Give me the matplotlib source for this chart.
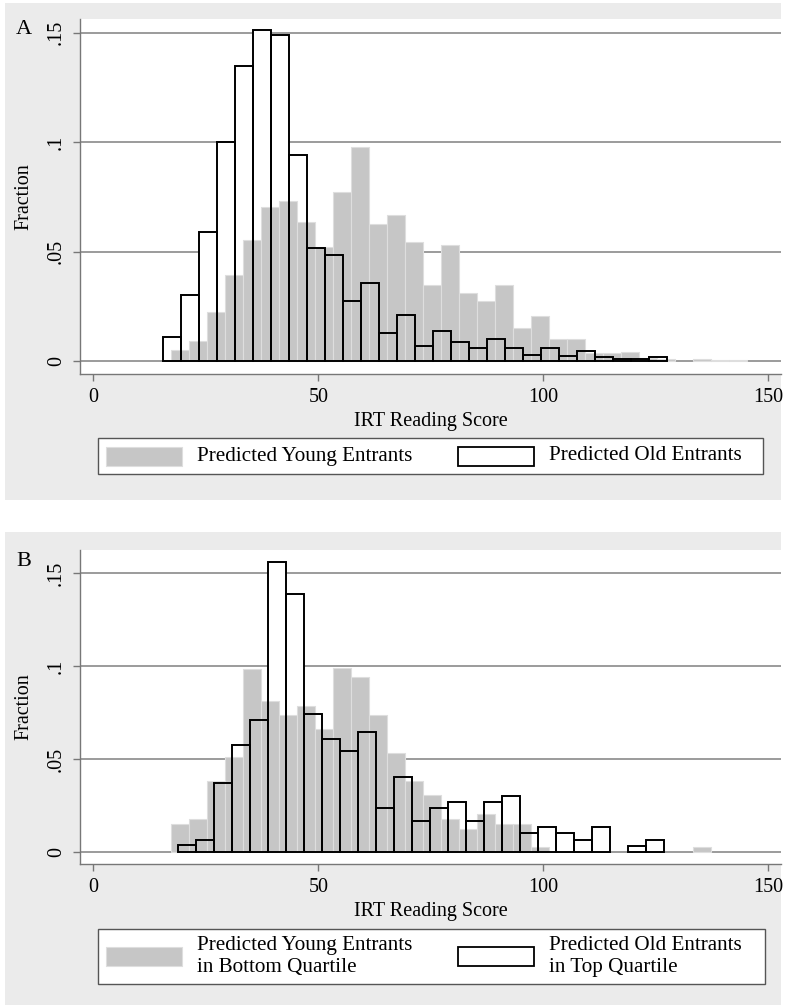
import numpy as np
import matplotlib
matplotlib.use("Agg")
import matplotlib.pyplot as plt
from matplotlib.patches import Rectangle

plt.rcParams['font.family'] = 'serif'
plt.rcParams['font.serif'] = ['Liberation Serif', 'DejaVu Serif']

W, H = 793, 1007
BIN = 4.0

# panel A: fraction per bin (bins are 4 points wide)
young_a_start = 17.3
young_a = [0.005, 0.009, 0.0224, 0.0392, 0.0553, 0.0703, 0.0730, 0.0635, 0.0522, 0.0774,
           0.0977, 0.0626, 0.0669, 0.0545, 0.0349, 0.0530, 0.0309, 0.0273, 0.0349, 0.0151,
           0.0206, 0.0101, 0.0101, 0.0035, 0.0035, 0.0040, 0.0012, 0.0010, 0.0, 0.0010,
           0.0007, 0.0007]
old_a_start = 15.4
old_a = [0.0108, 0.030, 0.0588, 0.1002, 0.135, 0.1513, 0.1489, 0.094, 0.0515, 0.0486,
         0.0276, 0.0355, 0.013, 0.0209, 0.007, 0.0137, 0.0085, 0.0061, 0.0102, 0.0061,
         0.0029, 0.0061, 0.0021, 0.0046, 0.0017, 0.001, 0.001, 0.0017]

# panel B
young_b_start = 17.3
young_b = [0.0152, 0.0179, 0.0382, 0.0511, 0.0987, 0.0812, 0.0737, 0.0788, 0.066, 0.099,
           0.0943, 0.0738, 0.0534, 0.0381, 0.0305, 0.0179, 0.0124, 0.0203, 0.0153, 0.0153,
           0.0025, 0, 0, 0, 0, 0, 0, 0, 0, 0.0025]
old_b_start = 18.9
old_b = [0.0036, 0.0066, 0.0371, 0.0577, 0.0711, 0.156, 0.139, 0.0745, 0.061, 0.0542,
         0.0644, 0.0237, 0.0404, 0.0168, 0.0236, 0.0267, 0.0167, 0.0267, 0.0301, 0.0100,
         0.0133, 0.0100, 0.0067, 0.0133, 0, 0.0033, 0.0067]

xticks = [0, 50, 100, 150]
yticks = [0, 0.05, 0.1, 0.15]
ytick_labels = ['0', '.05', '.1', '.15']

legend_a = ['Predicted Young Entrants', 'Predicted Old Entrants']
legend_b = ['Predicted Young Entrants\nin Bottom Quartile', 'Predicted Old Entrants\nin Top Quartile']

GRAY = '#c6c6c6'
BG = '#ebebeb'
FS = 14.5
LFS = 15.2


def fx(x):
    return x / W


def fy(y):
    return 1 - y / H


def nonzero(start, vals):
    v = np.array(vals, dtype=float)
    lefts = start + BIN * np.arange(len(v))
    keep = v > 0
    return lefts[keep], v[keep]


def draw_panel(ax, young_start, young, old_start, old, ylim):
    yl, yv = nonzero(young_start, young)
    ol, ov = nonzero(old_start, old)
    # white fill of old bars, then gray young bars, then black outlines on top
    ax.bar(ol, ov, width=BIN, align='edge', color='white', lw=0, zorder=2)
    ax.bar(yl, yv, width=BIN, align='edge', color=GRAY, edgecolor='#dedede', lw=0.8, zorder=3)
    ax.bar(ol, ov, width=BIN, align='edge', fill=False, edgecolor='black', lw=1.4, zorder=4)
    ax.set_xlim(-2.96, 152.8)
    ax.set_ylim(*ylim)
    ax.set_yticks(yticks)
    ax.set_yticklabels(ytick_labels, rotation=90, va='center')
    ax.set_xticks(xticks)
    ax.yaxis.grid(True, color='#8a8a8a', lw=1.2, zorder=1)
    ax.set_axisbelow(True)
    for s in ['top', 'right']:
        ax.spines[s].set_visible(False)
    for s in ['left', 'bottom']:
        ax.spines[s].set_color('#777777')
        ax.spines[s].set_linewidth(1.0)
    ax.tick_params(length=5, width=1, color='#777777', labelsize=FS, pad=5)
    ax.tick_params(axis='y', pad=5)
    ax.set_xlabel('IRT Reading Score', fontsize=FS, labelpad=4)


def draw_legend(fig, box, items, ty):
    x0, y0, x1, y1 = box
    fig.add_artist(Rectangle((fx(x0), fy(y1)), fx(x1) - fx(x0), fy(y0) - fy(y1),
                             transform=fig.transFigure, facecolor='white',
                             edgecolor='#555555', lw=1.0, zorder=5))
    for (sx, tx), label, style in zip([(106, 197), (458, 549)], items, ['gray', 'outline']):
        if style == 'gray':
            fig.add_artist(Rectangle((fx(sx), fy(ty + 9.5)), 76 / W, 19 / H,
                                     transform=fig.transFigure, facecolor=GRAY,
                                     edgecolor='#dedede', lw=0.8, zorder=6))
        else:
            fig.add_artist(Rectangle((fx(sx), fy(ty + 9.5)), 76 / W, 19 / H,
                                     transform=fig.transFigure, facecolor='white',
                                     edgecolor='black', lw=1.3, zorder=6))
        fig.text(fx(tx), fy(ty), label, ha='left', va='center', fontsize=LFS,
                 linespacing=1.15, zorder=7)


fig = plt.figure(figsize=(W / 100, H / 100), dpi=100)

# light gray panel backgrounds
for (top, bot) in [(3, 500), (532, 1005)]:
    fig.add_artist(Rectangle((fx(5), fy(bot)), fx(781) - fx(5), fy(top) - fy(bot),
                             transform=fig.transFigure, facecolor=BG, lw=0, zorder=-10))

ax_a = fig.add_axes([fx(80), fy(374), (781 - 80) / W, (374 - 19) / H])
draw_panel(ax_a, young_a_start, young_a, old_a_start, old_a, (-0.0059, 0.1563))
ax_b = fig.add_axes([fx(80), fy(864), (781 - 80) / W, (864 - 550) / H])
draw_panel(ax_b, young_b_start, young_b, old_b_start, old_b, (-0.00645, 0.1625))

fig.text(fx(24), fy(197), 'Fraction', rotation=90, ha='center', va='center', fontsize=FS)
fig.text(fx(24), fy(707), 'Fraction', rotation=90, ha='center', va='center', fontsize=FS)
fig.text(fx(24), fy(30), 'A', ha='center', va='center', fontsize=16)
fig.text(fx(24), fy(561), 'B', ha='center', va='center', fontsize=16)

draw_legend(fig, (98, 438, 763, 474), legend_a, 456)
draw_legend(fig, (98, 929, 765, 984), legend_b, 956.5)

fig.savefig('out.png', dpi=100)
